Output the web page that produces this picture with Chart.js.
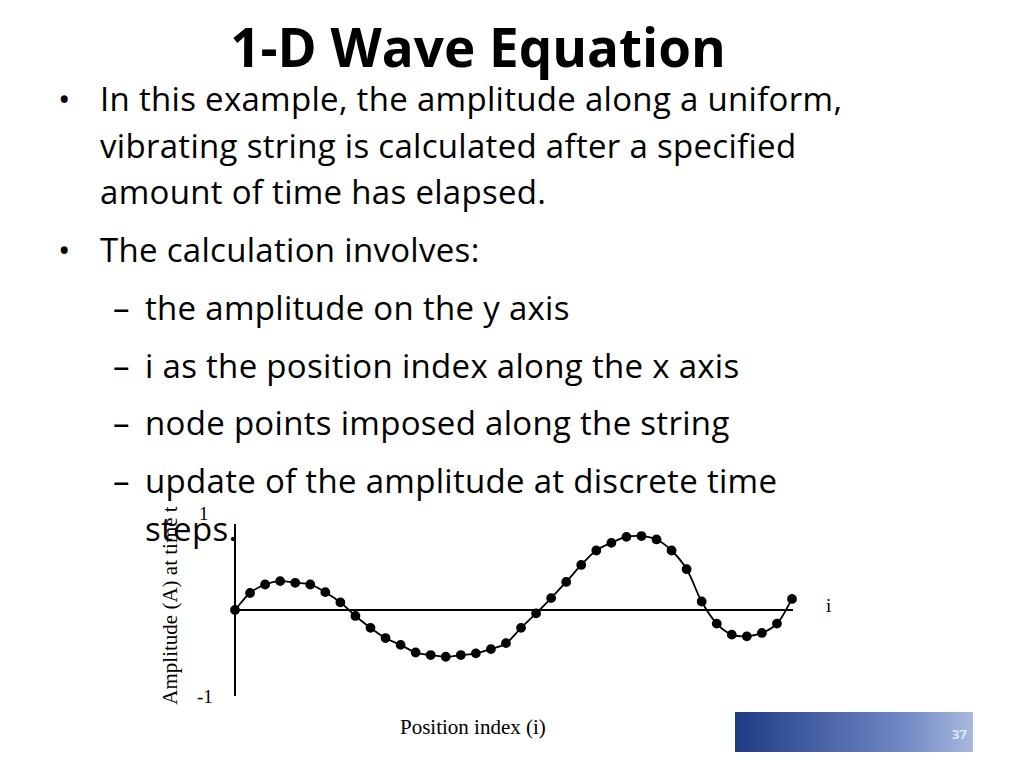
<!DOCTYPE html>
<html><head><meta charset="utf-8">
<script src="https://cdn.jsdelivr.net/npm/chart.js@4/dist/chart.umd.min.js"></script>
<style>
body{margin:0;width:1024px;height:768px;background:#fff;position:relative;overflow:hidden;font-family:"Open Sans",sans-serif;}
.t{position:absolute;white-space:nowrap;color:#000;}
.b{font-size:33px;letter-spacing:0.3px;}
.s{font-family:"Liberation Serif",serif;}
</style></head><body>
<div class="t" style="left:0;width:956px;text-align:center;top:10px;font-size:53px;font-weight:bold;">1-D Wave Equation</div>
<div class="t b" style="left:58px;top:76px;">•</div>
<div class="t b" style="left:100px;top:76px;">In this example, the amplitude along a uniform,</div>
<div class="t b" style="left:100px;top:123px;">vibrating string is calculated after a specified</div>
<div class="t b" style="left:100px;top:169px;">amount of time has elapsed.</div>
<div class="t b" style="left:58px;top:227px;">•</div>
<div class="t b" style="left:100px;top:227px;">The calculation involves:</div>
<div class="t b" style="left:113px;top:285px;">–</div><div class="t b" style="left:145px;top:285px;">the amplitude on the y axis</div>
<div class="t b" style="left:113px;top:343px;">–</div><div class="t b" style="left:145px;top:343px;">i as the position index along the x axis</div>
<div class="t b" style="left:113px;top:400px;">–</div><div class="t b" style="left:145px;top:400px;">node points imposed along the string</div>
<div class="t b" style="left:113px;top:458px;">–</div><div class="t b" style="left:145px;top:458px;">update of the amplitude at discrete time</div>
<div class="t b" style="left:145px;top:506px;">steps.</div>
<div class="t s" style="left:70px;top:593px;width:200px;text-align:center;font-size:21px;transform:rotate(-90deg);">Amplitude (A) at time t</div>
<div class="t s" style="left:199px;top:503px;font-size:19px;">1</div>
<div class="t s" style="left:197px;top:686px;font-size:19px;">-1</div>
<div class="t s" style="left:826px;top:595px;font-size:19px;">i</div>
<div class="t s" style="left:400px;top:715px;font-size:21px;">Position index (i)</div>
<div style="position:absolute;left:735px;top:712px;width:238px;height:40px;background:linear-gradient(90deg,#1f3b86,#6f87c4 70%,#a9b8dc);"></div>
<div class="t" style="left:952px;top:725px;font-size:13px;color:#dfe6f5;font-weight:bold;">37</div>
<div style="position:absolute;left:227px;top:517px;width:573px;height:186px;"><canvas id="c"></canvas></div>
<script>
const positions=[0,1,2,3,4,5,6,7,8,9,10,11,12,13,14,15,16,17,18,19,20,21,22,23,24,25,26,27,28,29,30,31,32,33,34,35,36,37];
const amplitude=[0,0.20,0.30,0.34,0.32,0.30,0.21,0.09,-0.07,-0.21,-0.33,-0.41,-0.50,-0.53,-0.55,-0.53,-0.51,-0.46,-0.39,-0.21,-0.04,0.14,0.33,0.53,0.70,0.79,0.86,0.87,0.83,0.70,0.48,0.10,-0.16,-0.29,-0.31,-0.27,-0.16,0.13];
new Chart(document.getElementById('c'),{type:'line',
data:{labels:positions,datasets:[{data:positions.map((x,i)=>({x:x,y:amplitude[i]})),borderColor:'#000',borderWidth:1.8,tension:0.4,pointRadius:4,pointBackgroundColor:'#000',pointBorderColor:'#000',clip:false}]},
options:{responsive:true,maintainAspectRatio:false,animation:false,layout:{padding:8},
plugins:{legend:{display:false},tooltip:{enabled:false}},
scales:{x:{type:'linear',min:0,max:37,position:{y:0},grid:{display:false,drawTicks:false},ticks:{display:false},border:{color:'#000',width:2}},
y:{min:-1,max:1,grid:{display:false,drawTicks:false},ticks:{display:false},border:{color:'#000',width:2}}}}});
</script>
</body></html>
